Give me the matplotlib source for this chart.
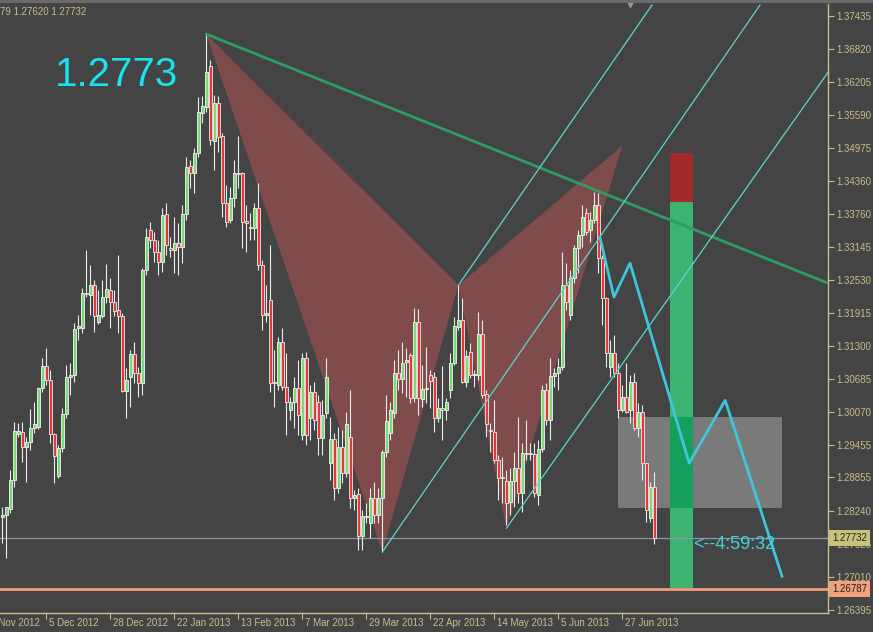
import numpy as np
import matplotlib.pyplot as plt
import matplotlib.transforms as mtransforms
from matplotlib.patches import Polygon, Rectangle

plt.rcParams['font.family'] = ['Liberation Sans', 'DejaVu Sans']

# daily EURUSD candles, 13 Nov 2012 .. 9 Jul 2013
opens = [1.2812, 1.2816, 1.2827, 1.2881, 1.2966, 1.2970, 1.2942, 1.2951, 1.2977, 1.2979,
         1.3052, 1.3093, 1.3067, 1.2966, 1.2888, 1.2940, 1.3003, 1.3072, 1.3076, 1.3163,
         1.3163, 1.3228, 1.3225, 1.3243, 1.3174, 1.3186, 1.3221, 1.3234, 1.3212, 1.3197,
         1.3186, 1.3046, 1.3072, 1.3115, 1.3080, 1.3061, 1.3271, 1.3345, 1.3327, 1.3305,
         1.3286, 1.3375, 1.3312, 1.3308, 1.3321, 1.3314, 1.3375, 1.3464, 1.3451, 1.3489,
         1.3563, 1.3574, 1.3650, 1.3511, 1.3582, 1.3520, 1.3396, 1.3364, 1.3405, 1.3451,
         1.3451, 1.3362, 1.3351, 1.3349, 1.3386, 1.3280, 1.3187, 1.3215, 1.3063, 1.3057,
         1.3137, 1.3054, 1.3011, 1.3026, 1.3052, 1.2964, 1.3108, 1.2996, 1.3044, 1.3026,
         1.2959, 1.3005, 1.2912, 1.2957, 1.2866, 1.2942, 1.2894, 1.2961, 1.2847, 1.2855,
         1.2777, 1.2812, 1.2801, 1.2847, 1.2816, 1.2847, 1.2933, 1.2968, 1.3005, 1.3080,
         1.3068, 1.3100, 1.3113, 1.3033, 1.3174, 1.3031, 1.3050, 1.3076, 1.3072, 1.2996,
         1.3015, 1.3011, 1.3048, 1.3098, 1.3165, 1.3178, 1.3063, 1.3119, 1.3076, 1.3076,
         1.3152, 1.3041, 1.2974, 1.2970, 1.2918, 1.2886, 1.2879, 1.2840, 1.2879, 1.2903,
         1.2857, 1.2931, 1.2931, 1.2929, 1.2853, 1.2938, 1.3048, 1.2992, 1.3074, 1.3080,
         1.3091, 1.3243, 1.3187, 1.3256, 1.3312, 1.3336, 1.3377, 1.3345, 1.3364, 1.3392,
         1.3293, 1.3219, 1.3091, 1.3117, 1.3080, 1.3011, 1.3035, 1.3011, 1.3063, 1.2977,
         1.3007, 1.2912, 1.2810, 1.2868]
highs = [1.2831, 1.2831, 1.2899, 1.2989, 1.2987, 1.2989, 1.2961, 1.3013, 1.3026, 1.3054,
         1.3108, 1.3126, 1.3085, 1.2968, 1.2946, 1.3015, 1.3095, 1.3098, 1.3173, 1.3187,
         1.3238, 1.3308, 1.3280, 1.3253, 1.3234, 1.3253, 1.3282, 1.3256, 1.3234, 1.3299,
         1.3191, 1.3089, 1.3122, 1.3137, 1.3091, 1.3275, 1.3349, 1.3360, 1.3342, 1.3327,
         1.3386, 1.3396, 1.3332, 1.3370, 1.3358, 1.3392, 1.3481, 1.3476, 1.3498, 1.3593,
         1.3595, 1.3712, 1.3662, 1.3596, 1.3595, 1.3526, 1.3429, 1.3425, 1.3476, 1.3520,
         1.3453, 1.3392, 1.3377, 1.3396, 1.3433, 1.3290, 1.3243, 1.3318, 1.3122, 1.3147,
         1.3163, 1.3117, 1.3035, 1.3072, 1.3104, 1.3117, 1.3119, 1.3057, 1.3063, 1.3039,
         1.3029, 1.3108, 1.2998, 1.2968, 1.2979, 1.2974, 1.3007, 1.3048, 1.2862, 1.2866,
         1.2825, 1.2838, 1.2866, 1.2877, 1.2866, 1.2936, 1.3039, 1.3026, 1.3104, 1.3122,
         1.3137, 1.3126, 1.3117, 1.3200, 1.3199, 1.3095, 1.3128, 1.3085, 1.3082, 1.3033,
         1.3093, 1.3033, 1.3117, 1.3184, 1.3243, 1.3219, 1.3122, 1.3135, 1.3085, 1.3193,
         1.3178, 1.3048, 1.2987, 1.3029, 1.2927, 1.2923, 1.2899, 1.2903, 1.2933, 1.2998,
         1.2950, 1.2992, 1.2950, 1.2950, 1.2955, 1.3057, 1.3061, 1.3108, 1.3089, 1.3108,
         1.3305, 1.3284, 1.3271, 1.3318, 1.3345, 1.3392, 1.3386, 1.3379, 1.3416, 1.3414,
         1.3299, 1.3221, 1.3141, 1.3150, 1.3098, 1.3057, 1.3098, 1.3076, 1.3080, 1.3024,
         1.3020, 1.2912, 1.2877, 1.2896]
lows = [1.2764, 1.2736, 1.2819, 1.2868, 1.2961, 1.2914, 1.2877, 1.2936, 1.2968, 1.2975,
        1.3044, 1.3057, 1.2950, 1.2875, 1.2884, 1.2933, 1.2996, 1.3039, 1.3063, 1.3141,
        1.3154, 1.3221, 1.3187, 1.3156, 1.3171, 1.3182, 1.3210, 1.3163, 1.3186, 1.3154,
        1.3044, 1.2996, 1.3016, 1.3061, 1.3035, 1.3039, 1.3262, 1.3312, 1.3286, 1.3262,
        1.3267, 1.3299, 1.3295, 1.3266, 1.3262, 1.3284, 1.3364, 1.3424, 1.3414, 1.3481,
        1.3544, 1.3565, 1.3503, 1.3457, 1.3490, 1.3370, 1.3351, 1.3358, 1.3388, 1.3424,
        1.3312, 1.3305, 1.3327, 1.3327, 1.3271, 1.3160, 1.3174, 1.3044, 1.3016, 1.3048,
        1.3048, 1.2964, 1.2992, 1.2977, 1.2964, 1.2955, 1.2946, 1.2955, 1.2974, 1.2927,
        1.2927, 1.2996, 1.2881, 1.2844, 1.2857, 1.2875, 1.2886, 1.2829, 1.2825, 1.2751,
        1.2751, 1.2801, 1.2773, 1.2801, 1.2801, 1.2747, 1.2923, 1.2955, 1.2996, 1.3048,
        1.3042, 1.3035, 1.3024, 1.3026, 1.3002, 1.3016, 1.3024, 1.3015, 1.2970, 1.2989,
        1.2955, 1.2992, 1.3033, 1.3095, 1.3160, 1.3061, 1.3054, 1.3070, 1.3054, 1.3067,
        1.3033, 1.2961, 1.2933, 1.2912, 1.2844, 1.2838, 1.2797, 1.2816, 1.2831, 1.2838,
        1.2821, 1.2918, 1.2918, 1.2849, 1.2834, 1.2933, 1.2983, 1.2955, 1.3054, 1.3048,
        1.3085, 1.3197, 1.3178, 1.3247, 1.3266, 1.3314, 1.3336, 1.3323, 1.3358, 1.3266,
        1.3169, 1.3091, 1.3072, 1.3072, 1.2996, 1.3007, 1.3005, 1.2987, 1.2974, 1.2961,
        1.2881, 1.2803, 1.2803, 1.2762]
closes = [1.2816, 1.2831, 1.2881, 1.2972, 1.2972, 1.2942, 1.2951, 1.2977, 1.2985, 1.3052,
          1.3093, 1.3067, 1.2966, 1.2925, 1.2940, 1.3003, 1.3072, 1.3076, 1.3161, 1.3167,
          1.3228, 1.3227, 1.3243, 1.3186, 1.3187, 1.3221, 1.3236, 1.3212, 1.3195, 1.3186,
          1.3046, 1.3067, 1.3115, 1.3080, 1.3061, 1.3271, 1.3332, 1.3327, 1.3305, 1.3286,
          1.3373, 1.3318, 1.3308, 1.3321, 1.3314, 1.3375, 1.3463, 1.3451, 1.3489, 1.3565,
          1.3576, 1.3639, 1.3513, 1.3582, 1.3518, 1.3396, 1.3360, 1.3405, 1.3451, 1.3450,
          1.3360, 1.3358, 1.3349, 1.3386, 1.3280, 1.3187, 1.3191, 1.3061, 1.3061, 1.3137,
          1.3054, 1.3026, 1.3026, 1.3052, 1.3002, 1.3108, 1.2964, 1.3044, 1.2992, 1.2959,
          1.3002, 1.3072, 1.2957, 1.2866, 1.2942, 1.2894, 1.2985, 1.2847, 1.2853, 1.2777,
          1.2814, 1.2814, 1.2847, 1.2816, 1.2847, 1.2933, 1.2990, 1.3011, 1.3080, 1.3068,
          1.3098, 1.3104, 1.3033, 1.3174, 1.3033, 1.3050, 1.3052, 1.3065, 1.2996, 1.3015,
          1.3011, 1.3026, 1.3098, 1.3167, 1.3178, 1.3063, 1.3111, 1.3076, 1.3078, 1.3152,
          1.3039, 1.2985, 1.2972, 1.2918, 1.2884, 1.2884, 1.2838, 1.2879, 1.2903, 1.2857,
          1.2931, 1.2929, 1.2929, 1.2857, 1.2938, 1.3048, 1.2992, 1.3074, 1.3080, 1.3091,
          1.3243, 1.3212, 1.3256, 1.3312, 1.3336, 1.3370, 1.3342, 1.3364, 1.3392, 1.3293,
          1.3219, 1.3117, 1.3117, 1.3080, 1.3011, 1.3035, 1.3007, 1.3063, 1.2977, 1.3007,
          1.2912, 1.2825, 1.2868, 1.27732]

date_idx = [-5, 11, 27, 43, 59, 75, 91, 107, 123, 139, 155]
date_labels = ['13 Nov 2012', '5 Dec 2012', '28 Dec 2012', '22 Jan 2013', '13 Feb 2013',
               '7 Mar 2013', '29 Mar 2013', '22 Apr 2013', '14 May 2013', '5 Jun 2013',
               '27 Jun 2013']
price_ticks = [1.37435, 1.36820, 1.36205, 1.35590, 1.34975, 1.34360, 1.33760, 1.33145,
               1.32530, 1.31915, 1.31300, 1.30685, 1.30070, 1.29455, 1.28855, 1.28240,
               1.27625, 1.27010, 1.26395]

# butterfly pattern X A B C D
pat_x = [51, 95, 114, 126, 155]
pat_y = [1.3710, 1.2747, 1.3243, 1.2791, 1.3503]
# trendline from X
trend_x = [51, 207]
trend_y = [1.3710, 1.3245]
# three parallel channel lines
chan_a = ([95, 189.4], [1.2747, 1.3764])
chan_b = ([114, 162.4], [1.3243, 1.3764])
chan_c = ([126, 206.4], [1.2791, 1.3639])
# projected path
zig_x = [149.4, 152.9, 156.9, 171.7, 180.7, 194.9]
zig_y = [1.3332, 1.3221, 1.3284, 1.2912, 1.3029, 1.2702]
# zones
box_x = [153.9, 194.9]
box_y = [1.2829, 1.2998]
bar_x = [166.9, 172.7]
bar_green = [1.2680, 1.3398]
bar_red = [1.3398, 1.3489]

bid = 1.27732
level = 1.26787

bg = '#444444'
fg = '#c8be8c'

fig = plt.figure(figsize=(8.73, 6.32), dpi=100, facecolor=bg)
ax = fig.add_axes([0, 19 / 632, 828 / 873, 609 / 632])
ax.set_facecolor(bg)
ax.set_xlim(-0.575, 206.4)
ax.set_ylim(1.26334, 1.3766)

o = np.array(opens)
h = np.array(highs)
l = np.array(lows)
c = np.array(closes)
x = np.arange(len(o))
up = c >= o

# pattern triangles
ax.add_patch(Polygon(list(zip(pat_x[0:3], pat_y[0:3])), closed=True, fc='#7f4b4b', ec='none', zorder=1))
ax.add_patch(Polygon(list(zip(pat_x[2:5], pat_y[2:5])), closed=True, fc='#7f4b4b', ec='none', zorder=1))

# zones
ax.add_patch(Rectangle((box_x[0], box_y[0]), box_x[1] - box_x[0], box_y[1] - box_y[0],
                       fc='#7a7a7a', ec='none', zorder=1.5))
bw = bar_x[1] - bar_x[0]
ax.add_patch(Rectangle((bar_x[0], bar_green[0]), bw, bar_green[1] - bar_green[0],
                       fc='#3cb371', ec='none', zorder=2))
ax.add_patch(Rectangle((bar_x[0], bar_red[0]), bw, bar_red[1] - bar_red[0],
                       fc='#a3292a', ec='none', zorder=2))
ax.add_patch(Rectangle((bar_x[0], box_y[0]), bw, box_y[1] - box_y[0],
                       fc='#14a05c', ec='none', zorder=2.1))

ax.axhline(bid, color='#8898a8', lw=0.9, zorder=2.5)
ax.axhline(level, color='#f59a78', lw=2, zorder=2.5)

# candles
ax.vlines(x, l, h, color='#ececec', lw=0.8, zorder=3)
body_lo = np.minimum(o, c)
body_h = np.maximum(np.abs(c - o), 0.0002)
ax.bar(x[up], body_h[up], bottom=body_lo[up], width=0.62, color='#78dc78',
       edgecolor='#f4f4f4', linewidth=0.6, zorder=4)
ax.bar(x[~up], body_h[~up], bottom=body_lo[~up], width=0.62, color='#e03a3a',
       edgecolor='#f4eaea', linewidth=0.6, zorder=4)

# lines
ax.plot(trend_x, trend_y, color='#2e9d64', lw=2, zorder=5)
for cx, cy in (chan_a, chan_b, chan_c):
    ax.plot(cx, cy, color='#5cd6d0', lw=0.9, zorder=5)
ax.plot(zig_x, zig_y, color='#3ec6dc', lw=2, zorder=5)

ax.text(0.066, 0.883, '1.2773', transform=ax.transAxes, fontsize=29, color='#19e3f0',
        ha='left', va='center')
ax.text(172.7, 1.2760, '<--4:59:32', fontsize=13, color='#40d0e0', ha='left', va='center', zorder=6)

# axes styling
for s in ('top', 'left'):
    ax.spines[s].set_visible(False)
for s in ('right', 'bottom'):
    ax.spines[s].set_color(fg)
    ax.spines[s].set_linewidth(1)
ax.yaxis.tick_right()
ax.set_yticks(price_ticks)
ax.set_yticklabels([f'{v:.5f}' for v in price_ticks])
ax.tick_params(axis='y', direction='out', length=4, width=0.8, color=fg, labelcolor=fg,
               labelsize=7, pad=2)
ax.set_xticks([d for d in date_idx if d >= 0])
ax.set_xticklabels([])
ax.tick_params(axis='x', direction='out', length=4, width=0.8, color=fg)
trans = mtransforms.blended_transform_factory(ax.transData, ax.transAxes)
for d, lab in zip(date_idx, date_labels):
    ax.text(d + 0.6, -0.008, lab, transform=trans, fontsize=7, color=fg, ha='left', va='top',
            clip_on=False)

# price boxes on the scale
fig.text(832 / 873, (632 - 538) / 632, f'{bid:.5f}', fontsize=7, color='#222222', va='center',
         zorder=10, bbox=dict(boxstyle='square,pad=0.35', fc='#c8c37a', ec='none'))
fig.text(832 / 873, (632 - 589) / 632, f'{level:.5f}', fontsize=7, color='#222222', va='center',
         zorder=10, bbox=dict(boxstyle='square,pad=0.35', fc='#f3a07c', ec='none'))

# window top edge and header text
fig.add_artist(Rectangle((0, 1 - 3 / 632), 1, 3 / 632, transform=fig.transFigure,
                         fc='#6a6a6a', ec='none'))
fig.text(0.0, (632 - 12) / 632, '79 1.27620 1.27732', fontsize=7, color=fg, va='center')
ax.plot([157], [1.0], marker='v', transform=trans, color='#9a9a9a', ms=5, clip_on=False, zorder=6)

fig.savefig('out.png', dpi=100, facecolor=bg)
